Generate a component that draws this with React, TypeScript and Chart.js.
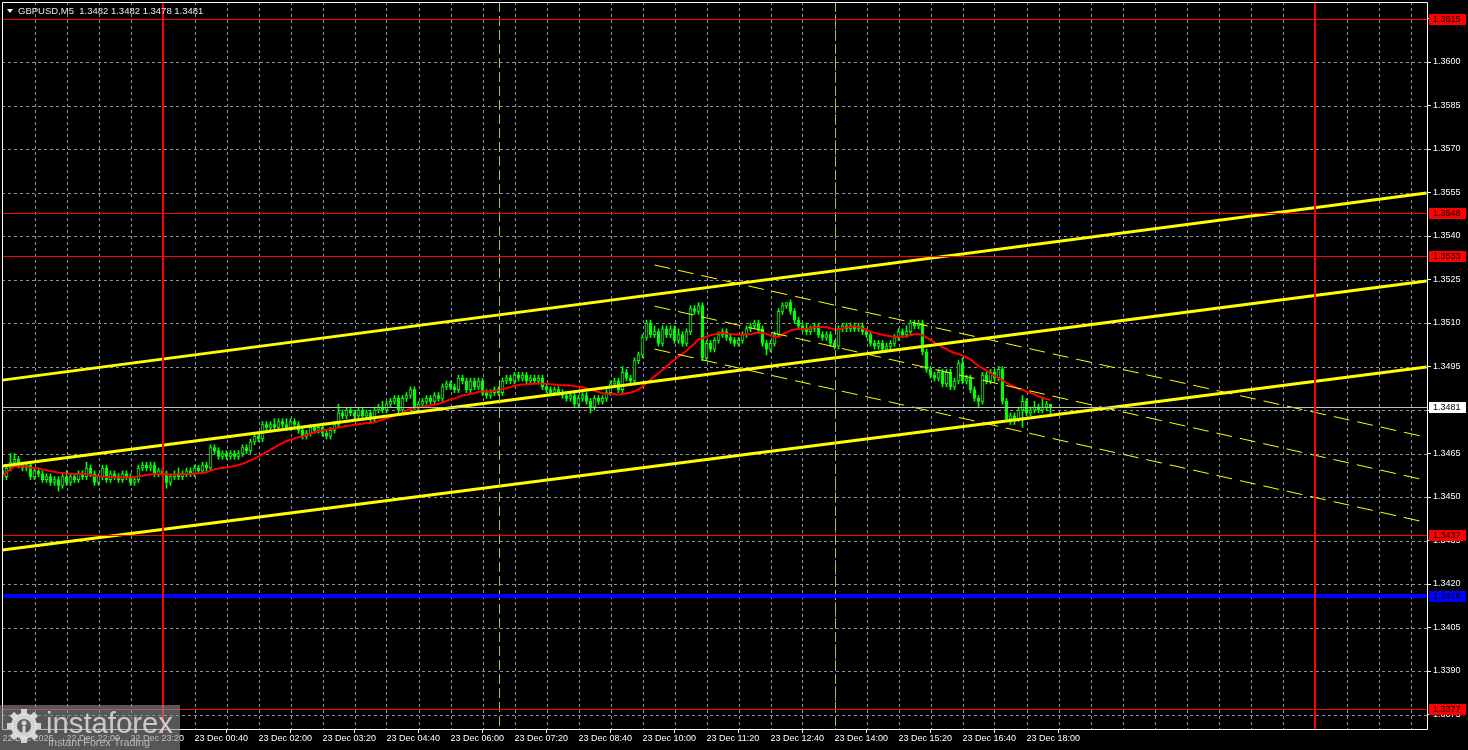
import React, { useEffect, useRef } from 'react';
import { Chart, registerables } from 'chart.js';
Chart.register(...registerables);

// ---------- DATA ----------
const titleText = 'GBPUSD,M5  1.3482 1.3482 1.3478 1.3481';
const firstOpen = 1.3459;
const closes = [
  1.3457, 1.3460, 1.3462, 1.3463, 1.3461, 1.3460, 1.3461, 1.3457, 1.3459, 1.3458,
  1.3456, 1.3457, 1.3455, 1.3456, 1.3454, 1.3457, 1.3455, 1.3457, 1.3456, 1.3458,
  1.3457, 1.3460, 1.3458, 1.3455, 1.3457, 1.3460, 1.3456, 1.3458, 1.3457, 1.3456,
  1.3458, 1.3457, 1.3455, 1.3456, 1.3460, 1.3461, 1.3460, 1.3461, 1.3458, 1.3459,
  1.3458, 1.3455, 1.3457, 1.3458, 1.3457, 1.3458, 1.3459, 1.3458, 1.3460, 1.3459,
  1.3461, 1.3460, 1.3467, 1.3466, 1.3464, 1.3465, 1.3464, 1.3465, 1.3464, 1.3465,
  1.3467, 1.3466, 1.3469, 1.3471, 1.3470, 1.3475, 1.3474, 1.3475, 1.3474, 1.3476,
  1.3475, 1.3474, 1.3476, 1.3475, 1.3473, 1.3471, 1.3472, 1.3474, 1.3473, 1.3474,
  1.3472, 1.3471, 1.3473, 1.3475, 1.3479, 1.3478, 1.3480, 1.3479, 1.3478, 1.3480,
  1.3478, 1.3479, 1.3477, 1.3480, 1.3481, 1.3480, 1.3482, 1.3483, 1.3484, 1.3480,
  1.3484, 1.3485, 1.3487, 1.3481, 1.3482, 1.3483, 1.3484, 1.3483, 1.3485, 1.3484,
  1.3488, 1.3489, 1.3488, 1.3487, 1.3491, 1.3490, 1.3487, 1.3490, 1.3488, 1.3490,
  1.3486, 1.3485, 1.3486, 1.3487, 1.3486, 1.3490, 1.3491, 1.3490, 1.3492, 1.3491,
  1.3492, 1.3490, 1.3491, 1.3490, 1.3491, 1.3488, 1.3487, 1.3486, 1.3487, 1.3486,
  1.3485, 1.3484, 1.3485, 1.3482, 1.3484, 1.3485, 1.3483, 1.3481, 1.3484, 1.3483,
  1.3484, 1.3486, 1.3489, 1.3490, 1.3487, 1.3493, 1.3491, 1.3490, 1.3497, 1.3499,
  1.3505, 1.3510, 1.3506, 1.3507, 1.3503, 1.3508, 1.3506, 1.3508, 1.3504, 1.3506,
  1.3503, 1.3507, 1.3515, 1.3514, 1.3516, 1.3498, 1.3503, 1.3501, 1.3504, 1.3506,
  1.3507, 1.3505, 1.3504, 1.3503, 1.3504, 1.3506, 1.3508, 1.3509, 1.3510, 1.3508,
  1.3503, 1.3501, 1.3503, 1.3506, 1.3514, 1.3516, 1.3517, 1.3514, 1.3511, 1.3509,
  1.3508, 1.3507, 1.3508, 1.3509, 1.3506, 1.3505, 1.3506, 1.3503, 1.3502, 1.3508,
  1.3509, 1.3508, 1.3509, 1.3508, 1.3509, 1.3507, 1.3506, 1.3503, 1.3502, 1.3503,
  1.3501, 1.3502, 1.3503, 1.3505, 1.3507, 1.3506, 1.3507, 1.3510, 1.3509, 1.3510,
  1.3500, 1.3494, 1.3492, 1.3491, 1.3493, 1.3489, 1.3493, 1.3488, 1.3490, 1.3496,
  1.3490, 1.3491, 1.3487, 1.3484, 1.3483, 1.3492, 1.3490, 1.3493, 1.3491, 1.3494,
  1.3483, 1.3477, 1.3478, 1.3477, 1.3480, 1.3483, 1.3479, 1.3480, 1.3481, 1.3480,
  1.3481, 1.3482, 1.3481,
];
// upper / lower shadow lengths in pips
const upperWick = [
  1, 1, 3, 2, 1, 1, 1, 1, 1, 1,
  1, 1, 1, 1, 1, 1, 2, 1, 1, 1,
  1, 2, 1, 1, 1, 1, 1, 1, 1, 1,
  1, 1, 1, 1, 1, 1, 1, 1, 1, 1,
  1, 1, 1, 1, 2, 1, 1, 1, 1, 1,
  1, 1, 1, 1, 1, 1, 1, 1, 1, 1,
  1, 1, 1, 1, 1, 1, 1, 1, 2, 1,
  1, 2, 1, 1, 1, 1, 1, 1, 1, 1,
  1, 1, 1, 1, 3, 1, 1, 1, 1, 1,
  1, 1, 1, 1, 1, 2, 1, 1, 1, 1,
  1, 1, 1, 1, 1, 1, 1, 1, 1, 1,
  1, 1, 1, 1, 1, 1, 1, 1, 1, 1,
  1, 1, 1, 1, 1, 1, 1, 1, 1, 1,
  1, 1, 1, 1, 1, 1, 1, 1, 1, 1,
  1, 1, 1, 1, 1, 1, 1, 1, 1, 1,
  1, 1, 1, 1, 1, 2, 1, 1, 1, 1,
  1, 1, 1, 2, 1, 1, 1, 1, 1, 2,
  1, 1, 1, 1, 1, 1, 1, 1, 1, 1,
  1, 1, 1, 1, 1, 1, 1, 1, 1, 1,
  1, 1, 1, 1, 1, 1, 0, 1, 1, 1,
  1, 2, 1, 1, 1, 1, 1, 1, 1, 1,
  1, 1, 1, 1, 1, 1, 1, 1, 1, 1,
  1, 1, 1, 1, 1, 1, 2, 1, 1, 1,
  1, 1, 1, 1, 1, 1, 1, 1, 1, 1,
  2, 1, 1, 1, 1, 1, 1, 1, 1, 1,
  1, 1, 1, 1, 1, 2, 1, 1, 2, 1,
  3, 1, 0,
];
const lowerWick = [
  1, 1, 1, 1, 1, 1, 1, 1, 1, 1,
  1, 1, 1, 1, 2, 1, 1, 1, 1, 1,
  1, 1, 1, 1, 1, 1, 1, 1, 1, 1,
  1, 1, 1, 1, 1, 1, 1, 1, 1, 1,
  1, 2, 1, 1, 1, 1, 1, 1, 1, 1,
  1, 1, 1, 1, 1, 1, 1, 1, 1, 1,
  1, 1, 1, 1, 1, 1, 1, 1, 1, 1,
  1, 1, 1, 1, 1, 1, 1, 1, 1, 1,
  1, 1, 1, 1, 1, 1, 1, 1, 1, 1,
  1, 1, 1, 1, 1, 1, 1, 1, 1, 1,
  1, 1, 1, 1, 1, 1, 1, 1, 1, 1,
  1, 1, 1, 1, 1, 1, 1, 1, 1, 1,
  1, 1, 1, 1, 1, 1, 1, 1, 1, 1,
  1, 1, 1, 1, 1, 1, 1, 1, 1, 1,
  1, 1, 1, 1, 1, 1, 1, 2, 1, 1,
  1, 1, 1, 1, 1, 1, 1, 1, 1, 1,
  1, 1, 1, 1, 1, 1, 1, 1, 1, 1,
  1, 1, 1, 1, 1, 1, 1, 1, 1, 1,
  1, 1, 1, 1, 1, 1, 1, 1, 1, 1,
  1, 2, 1, 1, 1, 1, 1, 1, 1, 1,
  1, 1, 1, 1, 1, 1, 1, 1, 1, 1,
  1, 1, 1, 1, 1, 1, 1, 1, 1, 1,
  1, 1, 1, 1, 1, 1, 1, 1, 1, 1,
  1, 1, 1, 1, 1, 1, 1, 1, 1, 1,
  1, 1, 1, 1, 2, 1, 1, 1, 1, 1,
  1, 1, 2, 2, 1, 6, 1, 1, 1, 1,
  1, 1, 3,
];
const timeLabelIndex = [0, 16, 32, 48, 64, 80, 96, 112, 128, 144, 160, 176, 192, 208, 224, 240, 256];
const timeLabels = [
  '22 Dec 2025', '22 Dec 22:00', '22 Dec 23:20', '23 Dec 00:40', '23 Dec 02:00', '23 Dec 03:20',
  '23 Dec 04:40', '23 Dec 06:00', '23 Dec 07:20', '23 Dec 08:40', '23 Dec 10:00', '23 Dec 11:20',
  '23 Dec 12:40', '23 Dec 14:00', '23 Dec 15:20', '23 Dec 16:40', '23 Dec 18:00',
];
const priceTicks = [
  1.3375, 1.3390, 1.3405, 1.3420, 1.3435, 1.3450, 1.3465, 1.3480, 1.3495,
  1.3510, 1.3525, 1.3540, 1.3555, 1.3570, 1.3585, 1.3600, 1.3615,
];
const redLevels = [1.3615, 1.3548, 1.3533, 1.3437, 1.3377];
const blueLevel = 1.3416;
const lastPrice = 1.3481;
const dayBreaks = [40, 328];
const sessionMarks = [124, 208];
const channelTop = [{ x: 0, y: 1.34903 }, { x: 356, y: 1.35548 }];
const channelMid = [{ x: 0, y: 1.34607 }, { x: 356, y: 1.35245 }];
const channelBot = [{ x: 0, y: 1.34317 }, { x: 356, y: 1.34948 }];
const dashTop = [{ x: 163, y: 1.35300 }, { x: 356, y: 1.34706 }];
const dashMid = [{ x: 163, y: 1.35158 }, { x: 356, y: 1.34557 }];
const dashBot = [{ x: 163, y: 1.35010 }, { x: 356, y: 1.34412 }];
const maPeriod = 20;

// ---------- derived ----------
const PIP = 0.0001;
const opens = closes.map((c, i) => (i === 0 ? firstOpen : closes[i - 1]));
const highs = closes.map((c, i) => Math.max(opens[i], c) + (upperWick[i] ?? 0) * PIP);
const lows = closes.map((c, i) => Math.min(opens[i], c) - (lowerWick[i] ?? 0) * PIP);
const ma = closes.map((_, i) => {
  const s = Math.max(0, i - maPeriod + 1);
  const w = closes.slice(s, i + 1);
  return w.reduce((a, b) => a + b, 0) / w.length;
});

const FONT = 'Liberation Sans';
const LIME = '#00ff00';

export default function App() {
  const ref = useRef<HTMLCanvasElement | null>(null);
  useEffect(() => {
    document.body.style.margin = '0';
    document.body.style.background = '#000';
    const canvas = ref.current;
    if (!canvas) return;

    const mtPlugin = {
      id: 'mt',
      beforeDraw(chart: any) {
        const { ctx, chartArea: a, scales } = chart;
        ctx.save();
        ctx.fillStyle = '#000';
        ctx.fillRect(0, 0, chart.width, chart.height);
        ctx.strokeStyle = '#8a949e';
        ctx.lineWidth = 1;
        ctx.setLineDash([3, 3]);
        ctx.beginPath();
        for (const v of priceTicks) {
          const y = Math.round(scales.y.getPixelForValue(v)) + 0.5;
          ctx.moveTo(a.left, y);
          ctx.lineTo(a.right, y);
        }
        for (let i = 8; i <= 352; i += 8) {
          const x = Math.round(scales.x.getPixelForValue(i)) + 0.5;
          ctx.moveTo(x, a.top);
          ctx.lineTo(x, a.bottom);
        }
        ctx.stroke();
        ctx.restore();
      },
      afterDatasetsDraw(chart: any) {
        const { ctx, chartArea: a, scales } = chart;
        ctx.save();
        ctx.beginPath();
        ctx.rect(a.left, a.top, a.right - a.left, a.bottom - a.top);
        ctx.clip();
        // session markers
        ctx.strokeStyle = '#9acd32';
        ctx.lineWidth = 1;
        ctx.setLineDash([10, 4]);
        ctx.beginPath();
        for (const i of sessionMarks) {
          const x = Math.round(scales.x.getPixelForValue(i)) + 0.5;
          ctx.moveTo(x, a.top);
          ctx.lineTo(x, a.bottom);
        }
        ctx.stroke();
        ctx.setLineDash([]);
        // last price line
        ctx.fillStyle = '#c0c0c0';
        ctx.fillRect(a.left, Math.round(scales.y.getPixelForValue(lastPrice)), a.right - a.left, 1);
        // red levels
        ctx.fillStyle = '#ff0000';
        for (const v of redLevels) {
          ctx.fillRect(a.left, Math.round(scales.y.getPixelForValue(v)), a.right - a.left, 1);
        }
        // blue level
        ctx.fillStyle = '#0000ff';
        ctx.fillRect(a.left, Math.round(scales.y.getPixelForValue(blueLevel)) - 2, a.right - a.left, 4);
        // day breaks
        ctx.fillStyle = '#ff0000';
        for (const i of dayBreaks) {
          const x = Math.round(scales.x.getPixelForValue(i));
          ctx.fillRect(x - 1, a.top, 2, a.bottom - a.top);
        }
        ctx.restore();
      },
      afterDraw(chart: any) {
        const { ctx, chartArea: a, scales } = chart;
        ctx.save();
        // frame
        ctx.strokeStyle = '#ffffff';
        ctx.lineWidth = 1;
        ctx.beginPath();
        ctx.moveTo(a.left + 0.5, a.bottom + 0.5);
        ctx.lineTo(a.left + 0.5, a.top + 0.5);
        ctx.lineTo(a.right + 0.5, a.top + 0.5);
        ctx.lineTo(a.right + 0.5, a.bottom + 0.5);
        ctx.lineTo(a.left + 0.5, a.bottom + 0.5);
        ctx.stroke();
        // price boxes
        ctx.font = `9px "${FONT}"`;
        ctx.textBaseline = 'middle';
        ctx.textAlign = 'left';
        const box = (v: number, bg: string, fg: string) => {
          const y = Math.round(scales.y.getPixelForValue(v));
          ctx.fillStyle = bg;
          ctx.fillRect(a.right + 2, y - 5, 37, 11);
          ctx.fillStyle = fg;
          ctx.fillText(v.toFixed(4), a.right + 6, y + 0.5);
        };
        for (const v of redLevels) box(v, '#ff0000', '#000000');
        box(blueLevel, '#0000ff', '#000000');
        box(lastPrice, '#ffffff', '#000000');
        // title
        ctx.fillStyle = '#ffffff';
        ctx.beginPath();
        ctx.moveTo(7, 9);
        ctx.lineTo(13, 9);
        ctx.lineTo(10, 13);
        ctx.closePath();
        ctx.fill();
        ctx.font = `9.5px "${FONT}"`;
        ctx.fillStyle = '#e8e8e8';
        ctx.fillText(titleText, 18, 11.5);
        // watermark
        ctx.fillStyle = 'rgba(140,140,140,0.62)';
        ctx.fillRect(0, 705, 180, 45);
        const cx = 24, cy = 726;
        ctx.fillStyle = 'rgba(225,225,225,0.9)';
        ctx.beginPath();
        ctx.arc(cx, cy, 13, 0, Math.PI * 2);
        ctx.fill();
        for (let k = 0; k < 8; k++) {
          const ang = (k * Math.PI) / 4;
          ctx.save();
          ctx.translate(cx, cy);
          ctx.rotate(ang);
          ctx.fillRect(-3, -17, 6, 6);
          ctx.restore();
        }
        ctx.fillStyle = 'rgb(95,95,95)';
        ctx.beginPath();
        ctx.arc(cx, cy, 7, 0, Math.PI * 2);
        ctx.fill();
        ctx.fillStyle = 'rgba(225,225,225,0.9)';
        ctx.beginPath();
        ctx.arc(cx, cy - 3, 2.5, 0, Math.PI * 2);
        ctx.fill();
        ctx.fillRect(cx - 1.5, cy, 3, 7);
        let fs = 30;
        ctx.font = `${fs}px "${FONT}"`;
        const w1 = ctx.measureText('instaforex').width;
        fs = (fs * 127) / w1;
        ctx.font = `${fs}px "${FONT}"`;
        ctx.textBaseline = 'alphabetic';
        ctx.fillStyle = 'rgba(215,215,215,0.9)';
        ctx.fillText('instaforex', 46, 733);
        let fs2 = 11;
        ctx.font = `${fs2}px "${FONT}"`;
        const w2 = ctx.measureText('Instant Forex Trading').width;
        fs2 = (fs2 * 102) / w2;
        ctx.font = `${fs2}px "${FONT}"`;
        ctx.fillStyle = 'rgba(200,200,200,0.85)';
        ctx.fillText('Instant Forex Trading', 48, 746);
        ctx.restore();
      },
    };

    const xy = (arr: { x: number; y: number }[]) => arr.map((p) => ({ x: p.x, y: p.y }));
    const lineDs = (data: any[], color: string, width: number, dash: number[] = [], order = 1) => ({
      type: 'line',
      data,
      borderColor: color,
      borderWidth: width,
      borderDash: dash,
      pointRadius: 0,
      tension: 0,
      fill: false,
      order,
    });

    const chart = new Chart(canvas, {
      type: 'bar',
      data: {
        datasets: [
          {
            type: 'bar',
            data: closes.map((c, i) => ({ x: i, y: [lows[i], highs[i]] })),
            backgroundColor: LIME,
            borderWidth: 0,
            barThickness: 1,
            grouped: false,
            order: 6,
          },
          {
            type: 'bar',
            data: closes.map((c, i) => ({ x: i, y: [opens[i], c] })),
            backgroundColor: closes.map((c, i) => (c >= opens[i] ? '#000000' : LIME)),
            borderColor: LIME,
            borderWidth: 1,
            borderSkipped: false,
            barThickness: 3,
            minBarLength: 1,
            grouped: false,
            order: 5,
          },
          lineDs(ma.map((v, i) => ({ x: i, y: v })), '#ff0000', 2, [], 4),
          lineDs(xy(dashTop), '#ffff00', 1, [16, 8], 2),
          lineDs(xy(dashMid), '#ffff00', 1, [16, 8], 2),
          lineDs(xy(dashBot), '#ffff00', 1, [16, 8], 2),
          lineDs(xy(channelTop), '#ffff00', 3, [], 1),
          lineDs(xy(channelMid), '#ffff00', 3, [], 1),
          lineDs(xy(channelBot), '#ffff00', 3, [], 1),
        ] as any,
      },
      options: {
        responsive: false,
        animation: false,
        events: [],
        layout: { padding: { left: 2, top: 2, right: 0, bottom: 0 } },
        plugins: { legend: { display: false }, tooltip: { enabled: false } },
        scales: {
          x: {
            type: 'linear',
            position: 'bottom',
            min: -0.125,
            max: 356.125,
            offset: false,
            afterBuildTicks: (s: any) => {
              s.ticks = timeLabelIndex.map((v) => ({ value: v }));
            },
            afterFit: (s: any) => {
              s.height = 21;
              s.paddingLeft = 0;
              s.paddingRight = 0;
            },
            ticks: {
              autoSkip: false,
              maxRotation: 0,
              minRotation: 0,
              align: 'start',
              padding: 0,
              color: '#ffffff',
              font: { family: FONT, size: 9 },
              callback: (v: any) => {
                const k = timeLabelIndex.indexOf(Number(v));
                return k >= 0 ? timeLabels[k] : '';
              },
            },
            grid: { display: true, drawOnChartArea: false, drawTicks: true, tickLength: 4, tickColor: '#ffffff' },
            border: { display: false },
          },
          y: {
            type: 'linear',
            position: 'right',
            min: 1.337,
            max: 1.362069,
            afterBuildTicks: (s: any) => {
              s.ticks = priceTicks.map((v) => ({ value: v }));
            },
            afterFit: (s: any) => {
              s.width = 41;
              s.paddingTop = 0;
              s.paddingBottom = 0;
            },
            ticks: {
              autoSkip: false,
              padding: 2,
              color: '#ffffff',
              font: { family: FONT, size: 9 },
              callback: (v: any) => Number(v).toFixed(4),
            },
            grid: { display: true, drawOnChartArea: false, drawTicks: true, tickLength: 4, tickColor: '#ffffff' },
            border: { display: false },
          },
        },
      } as any,
      plugins: [mtPlugin],
    });
    return () => chart.destroy();
  }, []);

  return (
    <div style={{ width: 1468, height: 750, background: '#000', overflow: 'hidden' }}>
      <canvas ref={ref} width={1468} height={750} style={{ width: 1468, height: 750, display: 'block' }} />
    </div>
  );
}
